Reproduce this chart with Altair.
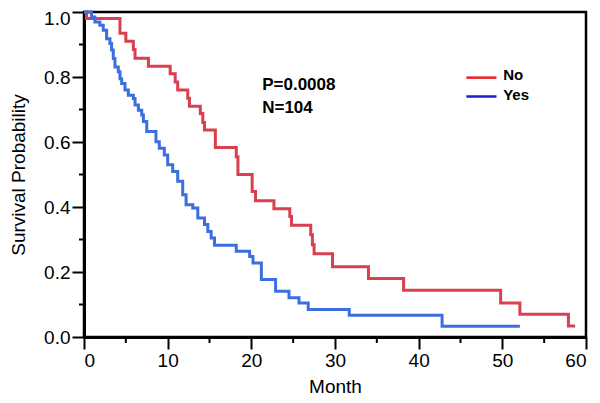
import altair as alt
import pandas as pd

# ---- data ----
groups = ["No", "Yes"]
curve_colors = ["#d8404f", "#3b6fdf"]
legend_colors = ["#ee1c24", "#1c1ccc"]

no_month = [0, 0.3, 4.3, 5.0, 5.9, 6.1, 7.7, 10.3, 10.9, 11.2,
            12.4, 12.6, 13.9, 14.2, 14.4, 15.7, 18.2, 18.4, 20.1, 20.5,
            22.7, 24.6, 24.8, 27.1, 27.3, 27.5, 29.7, 34.0, 38.2, 49.8,
            52.1, 57.9, 58.7]
no_surv = [1.0, 0.98, 0.935, 0.91, 0.885, 0.858, 0.833, 0.81, 0.785, 0.76,
           0.735, 0.71, 0.688, 0.66, 0.637, 0.583, 0.555, 0.50, 0.448, 0.419,
           0.395, 0.371, 0.344, 0.315, 0.284, 0.256, 0.216, 0.180, 0.144, 0.105,
           0.070, 0.034, 0.034]

yes_month = [0, 0.9, 1.3, 1.9, 2.3, 2.7, 3.1, 3.3, 3.5, 3.7,
             4.1, 4.3, 4.5, 4.9, 5.3, 5.9, 6.1, 6.5, 6.9, 7.1,
             7.5, 8.6, 9.0, 9.6, 10.0, 10.6, 11.2, 11.8, 12.2, 13.0,
             13.6, 14.4, 14.8, 15.2, 15.6, 18.2, 19.8, 20.2, 21.2, 22.9,
             24.5, 25.7, 26.8, 31.7, 42.8, 52.1]
yes_surv = [1.0, 0.985, 0.969, 0.959, 0.944, 0.918, 0.903, 0.883, 0.857, 0.831,
            0.816, 0.795, 0.78, 0.76, 0.744, 0.734, 0.714, 0.698, 0.683, 0.663,
            0.632, 0.601, 0.581, 0.56, 0.53, 0.509, 0.479, 0.438, 0.407, 0.397,
            0.366, 0.346, 0.325, 0.305, 0.282, 0.264, 0.248, 0.228, 0.177, 0.141,
            0.121, 0.105, 0.085, 0.067, 0.033, 0.033]

x_major = [0, 10, 20, 30, 40, 50, 60]
x_minor = [5, 15, 25, 35, 45, 55]
y_major = [0.0, 0.2, 0.4, 0.6, 0.8, 1.0]
y_minor = [0.1, 0.3, 0.5, 0.7, 0.9]

annot_text = ["P=0.0008", "N=104"]

# ---- tables ----
curves = pd.DataFrame(
    [{"month": t, "surv": s, "group": "No"} for t, s in zip(no_month, no_surv)]
    + [{"month": t, "surv": s, "group": "Yes"} for t, s in zip(yes_month, yes_surv)]
)

W, H = 502, 325
FONT = "Liberation Sans"

xscale = alt.Scale(domain=[0, 60], nice=False, zero=False)
yscale = alt.Scale(domain=[0, 1], nice=False)

lines = alt.Chart(curves).mark_line(
    interpolate="step-after", strokeWidth=3
).encode(
    x=alt.X("month:Q", scale=xscale,
            axis=alt.Axis(title="Month", values=x_major, format="d",
                          tickSize=12, tickWidth=2, domainWidth=3,
                          labelPadding=2, titlePadding=7)),
    y=alt.Y("surv:Q", scale=yscale,
            axis=alt.Axis(title="Survival Probability", values=y_major, format=".1f",
                          tickSize=12, tickWidth=2, domainWidth=3,
                          labelPadding=2, titlePadding=15,
                          labelOffset={"condition": {"test": "datum.value === 1",
                                                     "value": 6},
                                       "value": 0})),
    color=alt.Color("group:N", scale=alt.Scale(domain=groups, range=curve_colors),
                    legend=None),
)

minor_x = alt.Chart(pd.DataFrame({"m": x_minor})).mark_rule(
    color="black", strokeWidth=2
).encode(x=alt.X("m:Q", scale=xscale), y=alt.value(H), y2=alt.value(H + 6))

minor_y = alt.Chart(pd.DataFrame({"v": y_minor})).mark_rule(
    color="black", strokeWidth=2
).encode(y=alt.Y("v:Q", scale=yscale), x=alt.value(-5), x2=alt.value(0))

annot = alt.Chart(pd.DataFrame({
    "t": annot_text, "month": [21.3, 21.3], "surv": [0.774, 0.706]
})).mark_text(
    align="left", baseline="middle", font=FONT, fontSize=17, fontWeight="bold",
    color="black"
).encode(x=alt.X("month:Q", scale=xscale), y=alt.Y("surv:Q", scale=yscale),
         text="t:N")

leg_lines = alt.Chart(pd.DataFrame({
    "group": groups, "x1": [45.7, 45.7], "x2": [49.3, 49.3], "surv": [0.798, 0.740]
})).mark_rule(strokeWidth=2.5).encode(
    x=alt.X("x1:Q", scale=xscale), x2="x2:Q",
    y=alt.Y("surv:Q", scale=yscale),
    color=alt.Color("group:N", scale=alt.Scale(domain=groups, range=legend_colors),
                    legend=None),
)

leg_text = alt.Chart(pd.DataFrame({
    "group": groups, "month": [50.1, 50.1], "surv": [0.807, 0.746]
})).mark_text(
    align="left", baseline="middle", font=FONT, fontSize=15, fontWeight="bold",
    color="black"
).encode(x=alt.X("month:Q", scale=xscale), y=alt.Y("surv:Q", scale=yscale),
         text="group:N")

chart = alt.layer(lines, minor_x, minor_y, annot, leg_lines, leg_text).resolve_scale(
    color="independent"
).properties(
    width=W, height=H, autosize="none",
    padding={"left": 76, "top": 4, "right": 6, "bottom": 66},
).configure_view(
    stroke="black", strokeWidth=2.5
).configure_axis(
    grid=False, domainColor="black", tickColor="black",
    labelFont=FONT, labelFontSize=19, labelColor="black",
    titleFont=FONT, titleFontSize=19, titleColor="black", titleFontWeight="normal",
)

chart.save("out.html", embed_options={"renderer": "svg", "actions": False})
